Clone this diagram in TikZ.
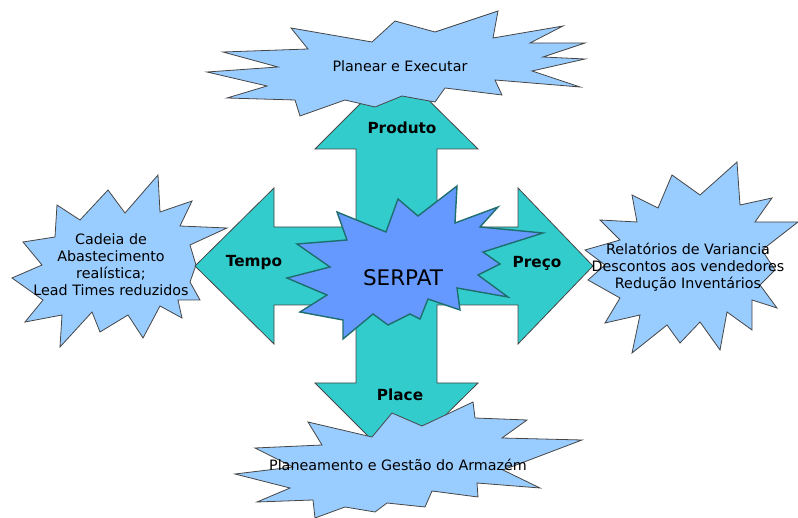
\documentclass[tikz,border=0pt]{standalone}
\usepackage{fontspec}
\setmainfont{DejaVu Sans}
\usepackage{tikz}
\usetikzlibrary{arrows.meta,calc,positioning}
\definecolor{ArrowTeal}{RGB}{51,204,204}
\definecolor{CloudBlue}{RGB}{153,204,255}
\definecolor{StarBlue}{RGB}{102,153,255}
\definecolor{StarEdge}{RGB}{31,110,110}
\definecolor{EdgeGray}{RGB}{70,70,70}

\begin{document}
\begin{tikzpicture}[x=1pt,y=-1pt,>=Latex,
    cloud/.style={fill=CloudBlue,draw=EdgeGray,line width=0.8pt,line join=miter},
    crossarrow/.style={fill=ArrowTeal,draw=EdgeGray,line width=0.8pt},
    serpatstar/.style={fill=StarBlue,draw=StarEdge,line width=1.4pt},
    cloudtext/.style={align=center,font=\fontsize{14.3}{17}\selectfont,inner sep=0pt},
    armlabel/.style={font=\fontsize{15.3}{18}\selectfont\bfseries,inner sep=0pt}]
      \useasboundingbox (0,0) rectangle (798,518);
      % clouds behind the side arrow heads
      \draw[cloud] (158,175)--(160,212)--(192,201)--(180,226)--(227,228)--(190,245)
        --(196,265)--(190,282)--(200,300)--(178,300)--(182,318)--(160,306)
        --(143,338)--(128,315)--(100,332)--(92,312)--(60,347)--(62,315)
        --(25,322)--(43,300)--(12,278)--(42,265)--(23,242)--(55,237)
        --(57,205)--(80,220)--(108,190)--(125,213)--cycle;
      \draw[cloud] (737,162)--(740,205)--(772,198)--(755,222)--(798,222)--(762,250)
        --(775,270)--(760,285)--(777,308)--(752,300)--(752,330)--(727,312)
        --(720,350)--(700,322)--(680,343)--(667,325)--(632,353)--(640,315)
        --(605,323)--(620,298)--(588,280)--(605,265)--(585,250)--(620,240)
        --(600,220)--(637,222)--(632,195)--(658,208)--(672,175)--(700,195)--cycle;
      % the four way arrow
      \draw[crossarrow] (396,68)--(478,149)--(437,149)--(437,227)--(518,227)--(518,188)
        --(593,266)--(518,344)--(518,305)--(437,305)--(437,383)--(478,383)
        --(396,464)--(315,383)--(356,383)--(356,305)--(274,305)--(274,344)
        --(195,266)--(274,188)--(274,227)--(356,227)--(356,149)--(315,149)--cycle;
      % centre star
      \draw[serpatstar] (337,212)--(386,232)--(398,199)--(418,216)--(457,186)--(455,223)
        --(498,207)--(480,227)--(543,233)--(483,252)--(500,264)--(478,275)
        --(508,297)--(457,288)--(460,310)--(428,299)--(420,319)--(410,314)
        --(388,325)--(373,314)--(343,339)--(343,320)--(300,312)--(327,295)
        --(287,278)--(330,267)--(297,244)--(347,240)--cycle;
      % top and bottom clouds
      \draw[cloud] (291,28)--(308,49)--(223,52)--(278,67)--(207,72)--(267,86)
        --(227,98)--(295,100)--(300,116)--(345,100)--(375,107)--(402,96)
        --(435,102)--(445,88)--(502,95)--(495,80)--(580,87)--(532,71)
        --(585,59)--(543,57)--(585,43)--(530,43)--(563,26)--(493,38)
        --(498,11)--(435,32)--(395,21)--(372,42)--cycle;
      \draw[cloud] (308,422)--(322,445)--(255,448)--(293,467)--(235,474)--(290,488)
        --(257,502)--(313,500)--(315,518)--(345,507)--(375,512)--(387,503)
        --(425,507)--(432,491)--(478,497)--(477,483)--(540,488)--(503,470)
        --(582,440)--(502,438)--(527,420)--(475,418)--(473,402)--(422,426)
        --(392,413)--(372,437)--cycle;
      % texts
      \node[font=\fontsize{21.5}{24}\selectfont,inner sep=0pt] (serpat) at (403,278) {SERPAT};
      \node[armlabel] (produto) at (402,128) {Produto};
      \node[armlabel] (tempo) at (254,263) {Tempo};
      \node[armlabel] (preco) at (537,263) {Preço};
      \node[armlabel] (place) at (400,395) {Place};
      \node[cloudtext] (planear) at (400,66) {Planear e Executar};
      \node[cloudtext] (armazem) at (398,465) {Planeamento e Gestão do Armazém};
      \node[cloudtext] (cadeia) at (111,265) {Cadeia de\\Abastecimento\\realística;\\Lead Times reduzidos};
      \node[cloudtext] (relatorios) at (688,267) {Relatórios de Variancia\\Descontos aos vendedores\\Redução Inventários};
    \end{tikzpicture}
\end{document}
